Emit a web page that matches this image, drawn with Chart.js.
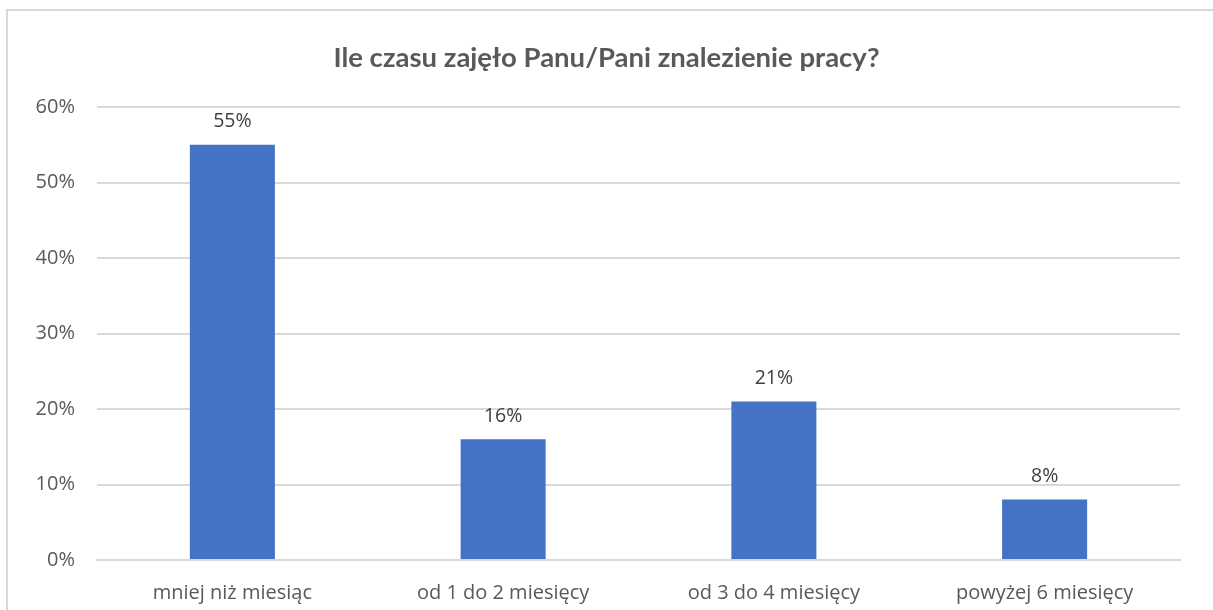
<!DOCTYPE html>
<html>
<head>
<meta charset="utf-8">
<script src="https://cdn.jsdelivr.net/npm/chart.js@4"></script>
<style>
  body { margin: 0; background: #fff; overflow: hidden; }
  #frame { position: absolute; left: 6px; top: 9px; width: 1400px; height: 800px; border: 2px solid #d9d9d9; }
  #wrap { position: absolute; left: 0; top: 0; width: 1213px; height: 610px; }
</style>
</head>
<body>
<div id="frame"></div>
<div id="wrap"><canvas id="myChart"></canvas></div>
<script>
const categories = ['mniej niż miesiąc', 'od 1 do 2 miesięcy', 'od 3 do 4 miesięcy', 'powyżej 6 miesięcy'];
const values = [55, 16, 21, 8];
const tick_labels = ['0%', '10%', '20%', '30%', '40%', '50%', '60%'];
const chart_title = 'Ile czasu zajęło Panu/Pani znalezienie pracy?';

// labels above the bars
const valueLabels = {
    id: 'valueLabels',
    afterDatasetsDraw(chart) {
        const ctx = chart.ctx;
        const meta = chart.getDatasetMeta(0);
        ctx.save();
        ctx.font = '19.5px "Open Sans"';
        ctx.fillStyle = '#404040';
        ctx.textAlign = 'center';
        ctx.textBaseline = 'middle';
        meta.data.forEach(function (bar, i) {
            ctx.fillText(values[i] + '%', bar.x, bar.y - 23);
        });
        ctx.restore();
    }
};

const ctx = document.getElementById('myChart').getContext('2d');
const myChart = new Chart(ctx, {
    type: 'bar',
    data: {
        labels: categories,
        datasets: [{
            data: values,
            backgroundColor: '#4472c4',
            borderWidth: 0,
            categoryPercentage: 1,
            barPercentage: 0.314
        }]
    },
    options: {
        responsive: true,
        maintainAspectRatio: false,
        animation: false,
        layout: { padding: 0 },
        plugins: {
            legend: { display: false },
            tooltip: { enabled: false },
            title: {
                display: true,
                text: chart_title,
                color: '#595959',
                font: { family: 'Lato', size: 27.5, weight: 'bold' },
                padding: { top: 42, bottom: 32 }
            }
        },
        scales: {
            x: {
                grid: { display: false },
                border: { color: '#d9d9d9', width: 2 },
                ticks: { color: '#595959', font: { family: 'Open Sans', size: 20 }, padding: 13 },
                afterFit(scale) { scale.height = 50; }
            },
            y: {
                min: 0,
                max: 60,
                ticks: {
                    stepSize: 10,
                    color: '#595959',
                    font: { family: 'Open Sans', size: 20 },
                    padding: 22,
                    callback: function (v) { return tick_labels[v / 10]; }
                },
                grid: { color: '#d9d9d9', lineWidth: 2, drawTicks: false },
                border: { display: false },
                afterFit(scale) { scale.width = 97; }
            },
            // empty right side space so the title stays centred on the page
            yRight: {
                position: 'right',
                min: 0,
                max: 60,
                ticks: { display: false },
                grid: { display: false },
                border: { display: false },
                afterFit(scale) { scale.width = 33; }
            }
        }
    },
    plugins: [valueLabels]
});
</script>
</body>
</html>
